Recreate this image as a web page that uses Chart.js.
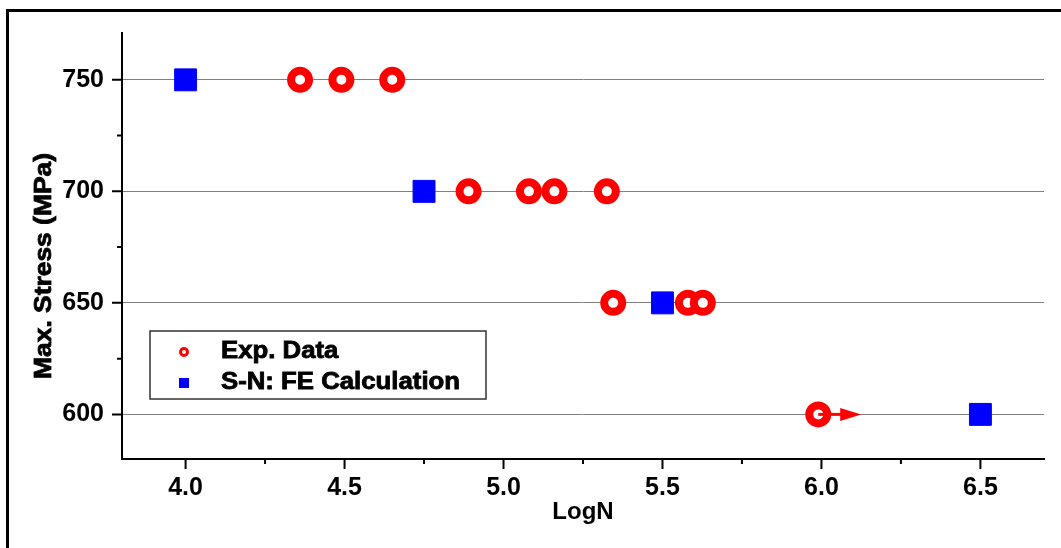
<!DOCTYPE html>
<html>
<head>
<meta charset="utf-8">
<script src="https://cdn.jsdelivr.net/npm/chart.js@4"></script>
<style>
  html, body { margin: 0; padding: 0; background: #fff; }
  #wrap { position: relative; width: 1061px; height: 548px; }
  #frame { position: absolute; left: 6px; top: 9px; right: -5px; bottom: -5px; border: 3px solid #000; }
  canvas { position: absolute; left: 0; top: 0; }
</style>
</head>
<body>
<div id="wrap">
  <div id="frame"></div>
  <canvas id="myChart" width="1061" height="548"></canvas>
</div>
<script>
// data
const expLogN = [4.36, 4.49, 4.65, 4.89, 5.08, 5.16, 5.325, 5.345, 5.58, 5.627, 5.99];
const expStress = [750, 750, 750, 700, 700, 700, 700, 650, 650, 650, 600];
const feLogN = [4.0, 4.75, 5.5, 6.5];
const feStress = [750, 700, 650, 600];
const seriesNames = ['Exp. Data', 'S-N: FE Calculation'];

// axis ticks
const xTicks = [4.0, 4.5, 5.0, 5.5, 6.0, 6.5];
const xMinor = [4.25, 4.75, 5.25, 5.75, 6.25];
const yTicks = [600, 650, 700, 750];
const yMinor = [625, 675, 725];

// run-out arrow on the last test point (did not fail)
const runoutFrom = [5.99, 600];
const runoutTo = [6.125, 600];

const FONT = '"Liberation Sans", Arial, sans-serif';
const ctx = document.getElementById('myChart');

const toPoints = (xs, ys) => xs.map((x, i) => ({ x: x, y: ys[i] }));

// a bit wider + heavier text, like the original figure's lettering
function heavyText(c, txt, x, y, sx) {
  c.save();
  c.translate(x, y);
  c.scale(sx, 1);
  c.lineWidth = 0.8;
  c.strokeStyle = c.fillStyle;
  c.fillText(txt, 0, 0);
  c.strokeText(txt, 0, 0);
  c.restore();
}

// minor/major ticks, arrow, y title and legend box
const extras = {
  id: 'extras',
  afterDraw(chart) {
    const c = chart.ctx;
    const xs = chart.scales.x, ys = chart.scales.y;
    const area = chart.chartArea;
    c.save();
    c.strokeStyle = '#000';
    c.lineWidth = 2;
    c.beginPath();
    xTicks.forEach(v => { const p = xs.getPixelForValue(v); c.moveTo(p, area.bottom); c.lineTo(p, area.bottom + 10); });
    xMinor.forEach(v => { const p = xs.getPixelForValue(v); c.moveTo(p, area.bottom); c.lineTo(p, area.bottom + 5); });
    yTicks.forEach(v => { const p = ys.getPixelForValue(v); c.moveTo(area.left, p); c.lineTo(area.left - 10, p); });
    yMinor.forEach(v => { const p = ys.getPixelForValue(v); c.moveTo(area.left, p); c.lineTo(area.left - 5, p); });
    c.stroke();

    // arrow
    const ax0 = xs.getPixelForValue(runoutFrom[0]), ay = ys.getPixelForValue(runoutFrom[1]);
    const ax1 = xs.getPixelForValue(runoutTo[0]);
    c.strokeStyle = '#ff0000';
    c.fillStyle = '#ff0000';
    c.lineWidth = 3;
    c.beginPath();
    c.moveTo(ax0, ay);
    c.lineTo(ax1 - 18, ay);
    c.stroke();
    c.beginPath();
    c.moveTo(ax1, ay);
    c.lineTo(ax1 - 21, ay - 6.5);
    c.lineTo(ax1 - 21, ay + 6.5);
    c.closePath();
    c.fill();

    // y axis title
    c.fillStyle = '#000';
    c.font = 'bold 24px ' + FONT;
    c.textAlign = 'center';
    c.textBaseline = 'middle';
    c.translate(44, (area.top + area.bottom) / 2 + 20);
    c.rotate(-Math.PI / 2);
    heavyText(c, 'Max. Stress (MPa)', 0, 0, 1.1);
    c.restore();

    // legend
    c.save();
    const bx = area.left + 28, by = area.bottom - 128, bw = 336, bh = 68;
    c.strokeStyle = '#333';
    c.lineWidth = 1.5;
    c.fillStyle = '#fff';
    c.fillRect(bx, by, bw, bh);
    c.strokeRect(bx, by, bw, bh);
    c.font = 'bold 23px ' + FONT;
    c.textAlign = 'left';
    c.textBaseline = 'middle';
    const mx = bx + 34;
    const r1 = by + 21, r2 = by + 52;
    c.strokeStyle = '#ff0000';
    c.lineWidth = 3;
    c.beginPath();
    c.arc(mx, r1, 3.5, 0, Math.PI * 2);
    c.stroke();
    c.fillStyle = '#0000ff';
    c.fillRect(mx - 5, r2 - 5, 10, 10);
    c.fillStyle = '#000';
    heavyText(c, seriesNames[0], bx + 71, r1, 1.12);
    heavyText(c, seriesNames[1], bx + 71, r2, 1.12);
    c.restore();
  }
};

const chart = new Chart(ctx, {
  type: 'scatter',
  data: {
    datasets: [{
      label: seriesNames[0],
      data: toPoints(expLogN, expStress),
      pointStyle: 'circle',
      pointRadius: 9,
      pointHoverRadius: 9,
      borderWidth: 8,
      borderColor: '#ff0000',
      backgroundColor: '#ffffff'
    }, {
      label: seriesNames[1],
      data: toPoints(feLogN, feStress),
      pointStyle: 'rect',
      pointRadius: 15.5,
      pointHoverRadius: 15.5,
      borderWidth: 1,
      borderColor: '#0000ff',
      backgroundColor: '#0000ff'
    }]
  },
  options: {
    responsive: false,
    animation: false,
    layout: { padding: { top: 32, right: 5, left: 0, bottom: 0 } },
    plugins: {
      legend: { display: false },
      tooltip: { enabled: false }
    },
    scales: {
      x: {
        type: 'linear',
        min: 3.8,
        max: 6.7,
        afterBuildTicks: s => { s.ticks = xTicks.map(v => ({ value: v })); },
        afterFit: s => { s.height = 89; },
        ticks: {
          padding: 14,
          color: '#000',
          font: { family: FONT, size: 25, weight: 'bold' },
          callback: v => Number(v).toFixed(1)
        },
        grid: { drawOnChartArea: false, drawTicks: false, color: 'rgba(0,0,0,0)' },
        border: { display: true, color: '#000', width: 2 },
        title: {
          display: true,
          text: 'LogN',
          color: '#000',
          font: { family: FONT, size: 24, weight: 'bold' },
          padding: { top: 0, bottom: 21 }
        }
      },
      y: {
        type: 'linear',
        min: 580,
        max: 771,
        afterBuildTicks: s => { s.ticks = yTicks.map(v => ({ value: v })); },
        afterFit: s => { s.width = 122; },
        ticks: {
          padding: 18,
          color: '#000',
          font: { family: FONT, size: 25, weight: 'bold' }
        },
        grid: { color: '#808080', lineWidth: 1, drawTicks: false },
        border: { display: true, color: '#000', width: 2 }
      }
    }
  },
  plugins: [extras]
});
</script>
</body>
</html>
